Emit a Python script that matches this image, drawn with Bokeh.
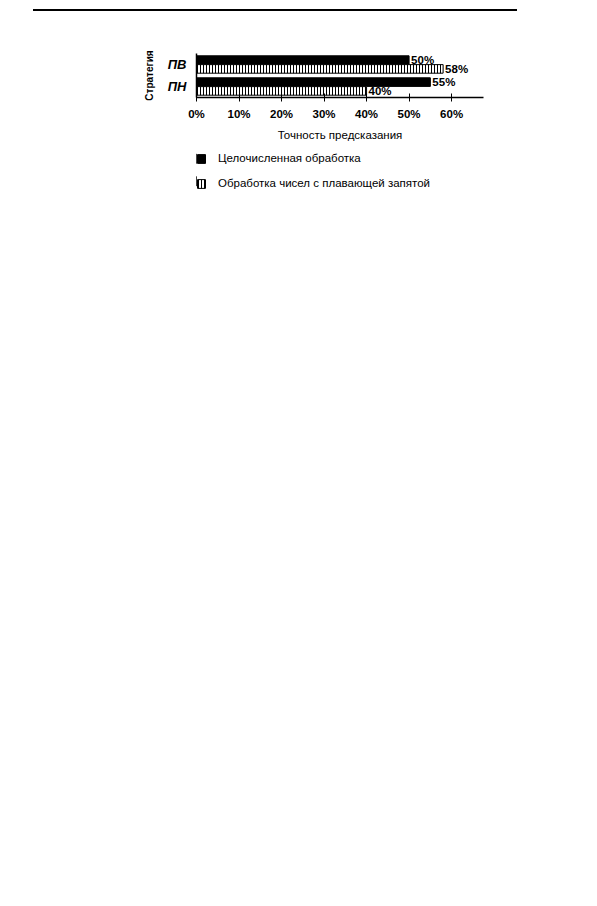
from bokeh.core.properties import value
from bokeh.embed import file_html
from bokeh.layouts import column
from bokeh.models import ColumnDataSource, FixedTicker, Legend, PrintfTickFormatter, Range1d
from bokeh.plotting import figure
from bokeh.resources import INLINE
from bokeh.transform import dodge

# data
strategies = ["ПН", "ПВ"]
integer_acc = [55, 50]
float_acc = [40, 58]
x_ticks = [0, 10, 20, 30, 40, 50, 60]
series_labels = ["Целочисленная обработка", "Обработка чисел с плавающей запятой"]

FONT = "Liberation Sans"

int_style = dict(fill_color="black", line_color="black")
float_style = dict(
    fill_color="white",
    line_color="black",
    hatch_pattern="vertical_line",
    hatch_color="black",
    hatch_scale=3,
    hatch_weight=1,
)

src = ColumnDataSource(
    data=dict(
        strategy=strategies,
        integer=integer_acc,
        floating=float_acc,
        integer_txt=["%d%%" % v for v in integer_acc],
        floating_txt=["%d%%" % v for v in float_acc],
    )
)

p = figure(
    width=484,
    height=136,
    y_range=strategies,
    x_range=(0, 67.5),
    output_backend="svg",
    toolbar_location=None,
    min_border_left=163,
    min_border_right=34,
    min_border_top=42,
    min_border_bottom=50,
    x_axis_label="Точность предсказания",
    y_axis_label="Стратегия",
)
# the page rule is drawn as a shadow just above the figure
p.styles = {"box-shadow": "0 -2px 0 0 black"}
p.y_range.range_padding = 0
p.outline_line_color = None
p.xgrid.visible = False
p.ygrid.visible = False

p.hbar(
    y=dodge("strategy", 0.2, range=p.y_range),
    right="integer",
    height=0.39,
    source=src,
    **int_style,
)
p.hbar(
    y=dodge("strategy", -0.2, range=p.y_range),
    right="floating",
    height=0.39,
    source=src,
    **float_style,
)

for col, off in (("integer", 0.2), ("floating", -0.2)):
    p.text(
        x=col,
        y=dodge("strategy", off, range=p.y_range),
        text=col + "_txt",
        source=src,
        x_offset=2,
        text_baseline="middle",
        text_font=value(FONT),
        text_font_style="bold",
        text_font_size="11.5px",
        text_color="black",
    )

xa = p.xaxis[0]
xa.ticker = FixedTicker(ticks=x_ticks)
xa.formatter = PrintfTickFormatter(format="%d%%")
xa.minor_tick_line_color = None
xa.major_tick_in = 4
xa.major_tick_out = 4
xa.major_tick_line_color = "black"
xa.axis_line_color = "black"
xa.axis_line_width = 1.5
xa.major_label_standoff = 6
xa.major_label_text_font = FONT
xa.major_label_text_font_style = "bold"
xa.major_label_text_font_size = "11.5px"
xa.major_label_text_color = "black"
xa.axis_label_standoff = 6
xa.axis_label_text_font = FONT
xa.axis_label_text_font_style = "normal"
xa.axis_label_text_font_size = "11.5px"
xa.axis_label_text_color = "black"

ya = p.yaxis[0]
ya.major_tick_line_color = None
ya.minor_tick_line_color = None
ya.axis_line_color = "black"
ya.axis_line_width = 1.5
ya.major_label_standoff = 4
ya.major_label_text_font = FONT
ya.major_label_text_font_style = "bold italic"
ya.major_label_text_font_size = "13px"
ya.major_label_text_color = "black"
ya.axis_label_standoff = 10
ya.axis_label_text_font = FONT
ya.axis_label_text_font_style = "bold"
ya.axis_label_text_font_size = "10px"
ya.axis_label_text_color = "black"

# legend lives in its own strip under the chart (its frame is aligned with the chart's);
# the strip's x range lies beyond the data, so only the legend shows
lf = figure(
    width=484,
    height=45,
    y_range=strategies,
    x_range=Range1d(100, 110),
    output_backend="svg",
    toolbar_location=None,
    x_axis_location=None,
    y_axis_location=None,
    min_border=0,
)
lf.outline_line_color = None
lf.xgrid.visible = False
lf.ygrid.visible = False
k_int = lf.hbar(y="strategy", right="integer", height=0.4, source=src, **int_style)
k_float = lf.hbar(y="strategy", right="floating", height=0.4, source=src, **float_style)

legend = Legend(
    items=[(series_labels[0], [k_int]), (series_labels[1], [k_float])],
    location=(0, 3),
    orientation="vertical",
    padding=0,
    margin=0,
    spacing=13,
    glyph_width=10,
    glyph_height=11,
    label_height=11,
    label_standoff=12,
    label_text_font=FONT,
    label_text_font_size="11.5px",
    label_text_color="black",
    border_line_color=None,
    background_fill_alpha=0,
)
lf.add_layout(legend)

page = column(p, lf, spacing=0)
page.margin = (11, 0, 0, 33)
open("out.html", "w").write(file_html(page, INLINE))
